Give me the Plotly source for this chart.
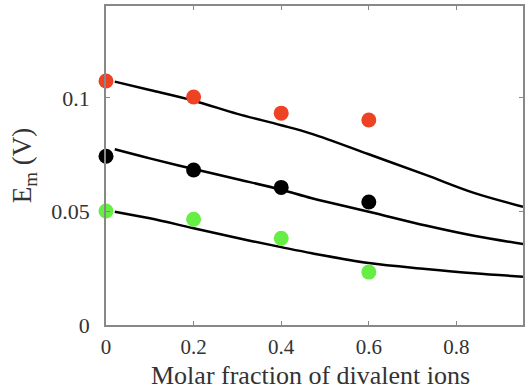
import plotly.graph_objects as go

# Measured data points
x_pts = [0, 0.2, 0.4, 0.6]
red_pts = [0.1075, 0.1004, 0.0933, 0.0903]
black_pts = [0.0743, 0.0683, 0.0606, 0.0542]
green_pts = [0.0502, 0.0466, 0.0382, 0.0233]

# Model curves
x_curve = [0.02, 0.1, 0.2, 0.3, 0.4, 0.47, 0.6, 0.73, 0.84, 0.952]
red_curve = [0.1072, 0.1035, 0.0988, 0.0930, 0.0880, 0.0842, 0.0752, 0.0661, 0.0582, 0.0521]
black_curve = [0.0774, 0.0734, 0.0687, 0.0642, 0.0596, 0.0558, 0.0499, 0.0438, 0.0393, 0.0357]
green_curve = [0.0499, 0.0470, 0.0426, 0.0383, 0.0343, 0.0316, 0.0273, 0.0247, 0.0228, 0.0213]

x_ticks = [0, 0.2, 0.4, 0.6, 0.8]
x_tick_text = ["0", "0.2", "0.4", "0.6", "0.8"]
y_ticks = [0, 0.05, 0.1]
y_tick_text = ["0", "0.05", "0.1"]
x_title = "Molar fraction of divalent ions"
y_title = "E<sub>m</sub> (V)"

fig = go.Figure()
for yc in [red_curve, black_curve, green_curve]:
    fig.add_trace(go.Scatter(x=x_curve, y=yc, mode="lines",
                             line=dict(color="black", width=2.5, shape="spline", smoothing=1.0),
                             showlegend=False, hoverinfo="skip"))
for yp, col in [(red_pts, "#ee4224"), (black_pts, "black"), (green_pts, "#66ee44")]:
    fig.add_trace(go.Scatter(x=x_pts, y=yp, mode="markers",
                             marker=dict(color=col, size=15, line=dict(width=0)),
                             showlegend=False, cliponaxis=False))

font_family = "Liberation Serif, Times New Roman, serif"
axis_common = dict(showline=True, linecolor="#888888", linewidth=1.5, mirror="ticks",
                   ticks="inside", ticklen=4, tickcolor="#888888", showgrid=False,
                   zeroline=False, tickfont=dict(family=font_family, size=22, color="#333333"))

fig.update_layout(
    width=526, height=392,
    margin=dict(l=106, r=1, t=6, b=67),
    plot_bgcolor="white", paper_bgcolor="white",
    xaxis=dict(range=[0, 0.952], tickvals=x_ticks, ticktext=x_tick_text,
               ticklabelstandoff=2, **axis_common),
    yaxis=dict(range=[0, 0.1405], tickvals=y_ticks, ticktext=y_tick_text,
               ticklabelstandoff=10,
               title=dict(text=y_title, standoff=12,
                          font=dict(family=font_family, size=27, color="#333333")),
               **axis_common),
    annotations=[dict(text=x_title, xref="paper", yref="paper", x=0.49, y=-0.157,
                      xanchor="center", yanchor="middle", showarrow=False,
                      font=dict(family=font_family, size=26, color="#333333"))],
)
fig.update_xaxes(tickfont=dict(size=21))
fig.write_html("out.html")
